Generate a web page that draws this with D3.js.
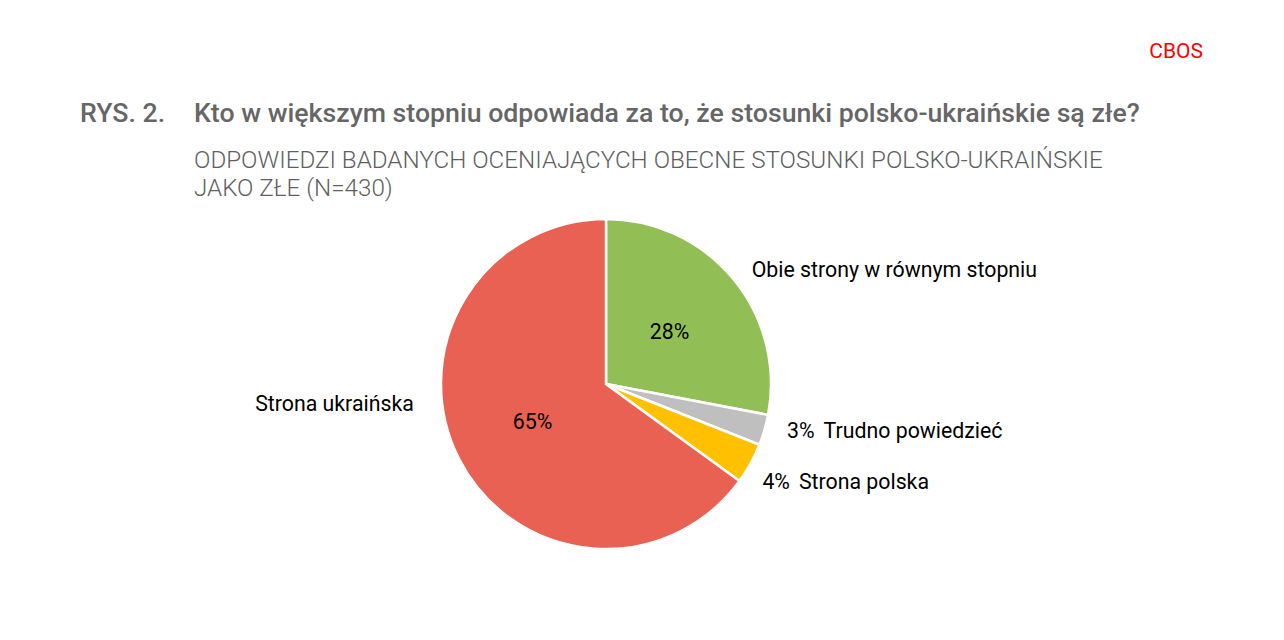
<!DOCTYPE html>
<html lang="pl">
<head>
    <meta charset="UTF-8">
    <title>RYS. 2.</title>
    <script src="https://d3js.org/d3.v7.min.js"></script>
    <style>
        body { margin: 0; background: #fff; }
        svg { font-family: Roboto, "Noto Sans", sans-serif; }
        .label { font-size: 21.3px; fill: #000; }
    </style>
</head>
<body>
    <svg id="chart"></svg>

    <script>
        // data, clockwise from 12 o'clock
        const categories = ["Obie strony w równym stopniu", "Trudno powiedzieć", "Strona polska", "Strona ukraińska"];
        const values = [28, 3, 4, 65];
        const colors = ["#92BF55", "#BFBFBF", "#FFC000", "#E86153"];
        // which labels sit inside the slice
        const inside = [true, false, false, true];

        const width = 1284, height = 640;
        const cx = 606, cy = 384, radius = 165;

        const svg = d3.select("#chart")
            .attr("width", width)
            .attr("height", height)
            .attr("viewBox", `0 0 ${width} ${height}`);

        // header
        svg.append("text")
            .attr("x", 1203).attr("y", 58)
            .attr("text-anchor", "end")
            .style("font-size", "21px")
            .style("fill", "#FF0000")
            .text("CBOS");

        svg.append("text")
            .attr("x", 80).attr("y", 122)
            .style("font-size", "26.7px").style("font-weight", 500)
            .style("fill", "#666")
            .text("RYS. 2.");

        svg.append("text")
            .attr("x", 194).attr("y", 122)
            .style("font-size", "26.7px").style("font-weight", 500)
            .style("fill", "#666")
            .text("Kto w większym stopniu odpowiada za to, że stosunki polsko-ukraińskie są złe?");

        const sub = svg.append("text")
            .attr("x", 194).attr("y", 168)
            .style("font-size", "24.2px").style("font-weight", 300)
            .style("fill", "#5f5f5f");
        sub.append("tspan").attr("x", 194).text("ODPOWIEDZI BADANYCH OCENIAJĄCYCH OBECNE STOSUNKI POLSKO-UKRAIŃSKIE");
        sub.append("tspan").attr("x", 194).attr("dy", 28).text("JAKO ZŁE (N=430)");

        const data = categories.map((c, i) => ({ name: c, value: values[i], color: colors[i], inside: inside[i] }));

        const pie = d3.pie().sort(null).value(d => d.value);
        const arcs = pie(data);

        const arc = d3.arc().innerRadius(0).outerRadius(radius);
        const innerLabel = d3.arc().innerRadius(radius * 0.5).outerRadius(radius * 0.5);
        const outerLabel = d3.arc().innerRadius(radius * 1.13).outerRadius(radius * 1.13);

        const g = svg.append("g").attr("transform", `translate(${cx},${cy})`);

        g.selectAll("path")
            .data(arcs)
            .join("path")
            .attr("d", arc)
            .attr("fill", d => d.data.color)
            .attr("stroke", "#fff")
            .attr("stroke-width", 2.5);

        // percentages inside big slices
        g.selectAll(".pct-in")
            .data(arcs.filter(d => d.data.inside))
            .join("text")
            .attr("class", "label")
            .attr("transform", d => `translate(${innerLabel.centroid(d)})`)
            .attr("text-anchor", "middle")
            .attr("dy", "0.35em")
            .text(d => d.data.value + "%");

        // outside labels
        let small = 0;
        arcs.forEach(d => {
            const mid = (d.startAngle + d.endAngle) / 2;
            let [x, y] = outerLabel.centroid(d);
            if (mid > Math.PI) {
                // left-hand label: Excel pushes it up to the side of the pie
                x = -radius * 1.165;
                y = radius * 0.12;
                g.append("text")
                    .attr("class", "label")
                    .attr("x", x).attr("y", y)
                    .attr("dy", "0.35em")
                    .attr("text-anchor", "end")
                    .text(d.data.name);
            } else if (d.data.inside) {
                g.append("text")
                    .attr("class", "label")
                    .attr("x", x + 2).attr("y", y + 4)
                    .attr("dy", "0.35em")
                    .text(d.data.name);
            } else {
                // the two thin slices: spread their labels apart a little
                const push = small === 0 ? [2, -5] : [-7, 8];
                small++;
                const t = g.append("text")
                    .attr("class", "label")
                    .attr("x", x + push[0]).attr("y", y + push[1])
                    .attr("dy", "0.35em");
                t.append("tspan").text(d.data.value + "%");
                t.append("tspan").attr("dx", 9).text(d.data.name);
            }
        });
    </script>
</body>
</html>
